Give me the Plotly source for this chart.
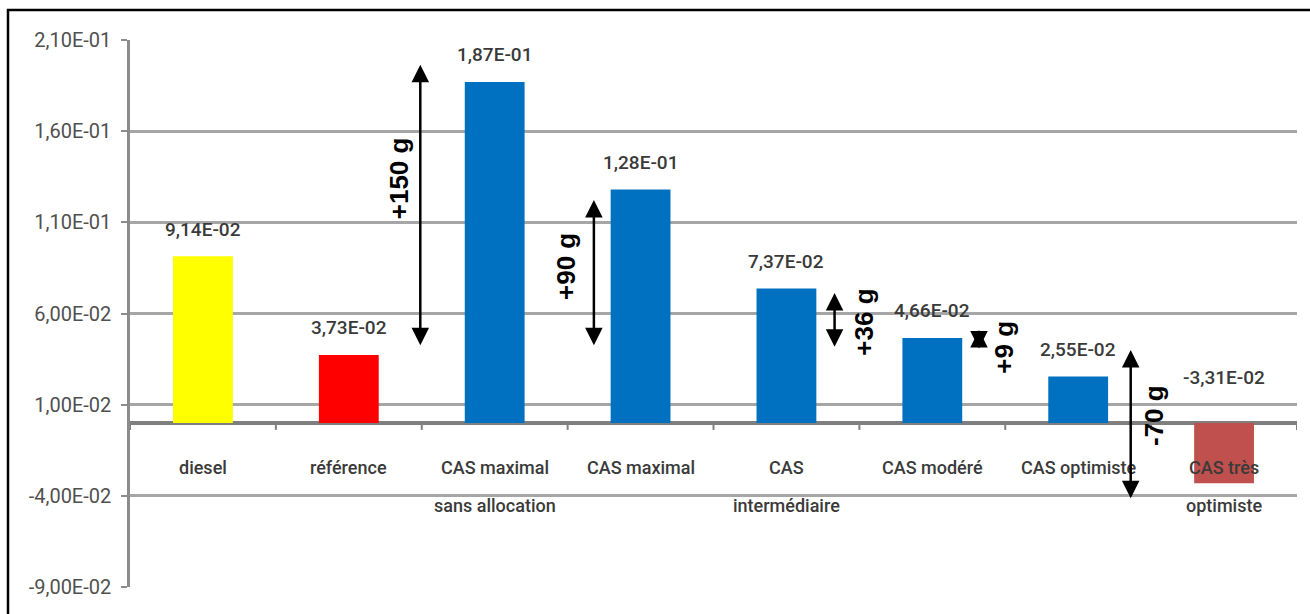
import plotly.graph_objects as go

# ---- data ----
categories = ["diesel", "référence", "CAS maximal<br>sans allocation", "CAS maximal",
              "CAS<br>intermédiaire", "CAS modéré", "CAS optimiste", "CAS très<br>optimiste"]
values = [9.14e-02, 3.73e-02, 1.87e-01, 1.28e-01, 7.37e-02, 4.66e-02, 2.55e-02, -3.31e-02]
value_labels = ["9,14E-02", "3,73E-02", "1,87E-01", "1,28E-01", "7,37E-02", "4,66E-02", "2,55E-02", "-3,31E-02"]
bar_colors = ["#FFFF00", "#FF0000", "#0070C0", "#0070C0", "#0070C0", "#0070C0", "#0070C0", "#C0504D"]

y_tickvals = [-0.09, -0.04, 0.01, 0.06, 0.11, 0.16, 0.21]
y_ticktext = ["-9,00E-02", "-4,00E-02", "1,00E-02", "6,00E-02", "1,10E-01", "1,60E-01", "2,10E-01"]

# difference arrows: x position (category units), from value, to value, label, label x, label y
arrow_x = [1.49, 2.68, 4.33, 5.32, 6.36]
arrow_from = [0.0417, 0.0417, 0.0410, 0.0400, -0.0422]
arrow_to = [0.1964, 0.1223, 0.0713, 0.0510, 0.0400]
arrow_text = ["+150 g", "+90 g", "+36 g", "+9 g", "-70 g"]
arrow_text_x = [1.34, 2.49, 4.53, 5.49, 6.52]
arrow_text_y = [0.1344, 0.0856, 0.0554, 0.0417, 0.0038]

W, H = 1310, 614
ML, MR, MT, MB = 130, 13, 40, 27
label_font = "Roboto, Noto Sans, sans-serif"
text_color = "#3A3A3A"

fig = go.Figure()
fig.add_trace(go.Bar(
    x=list(range(len(categories))), y=values,
    marker=dict(color=bar_colors, line=dict(width=0)),
    width=0.41, hoverinfo="skip", showlegend=False,
))

annotations = []
# value labels
for i, (v, t) in enumerate(zip(values, value_labels)):
    annotations.append(dict(
        x=i, y=max(v, 0), xref="x", yref="y", text=t, showarrow=False,
        yanchor="middle", yshift=27 if v >= 0 else 45,
        font=dict(family=label_font, size=19, color=text_color, weight=500),
    ))
# category labels (placed under the zero line)
for i, c in enumerate(categories):
    for k, line in enumerate(c.split("<br>")):
        annotations.append(dict(
            x=i, y=0, xref="x", yref="y", text=line, showarrow=False,
            yanchor="middle", yshift=-45 - 38 * k,
            font=dict(family=label_font, size=18, color=text_color, weight=500),
        ))
# arrows
for xa, y0, y1 in zip(arrow_x, arrow_from, arrow_to):
    annotations.append(dict(
        x=xa, y=y1, ax=xa, ay=y0, xref="x", yref="y", axref="x", ayref="y",
        text="", showarrow=True, arrowside="end+start",
        arrowhead=2, startarrowhead=2, arrowsize=1.4, startarrowsize=1.4,
        arrowwidth=2.5, arrowcolor="#000000",
    ))
for t, tx, ty in zip(arrow_text, arrow_text_x, arrow_text_y):
    annotations.append(dict(
        x=tx, y=ty, xref="x", yref="y", text="<b>%s</b>" % t, showarrow=False,
        textangle=-90, font=dict(family="Liberation Sans, Arial, sans-serif", size=26, color="#000000"),
    ))

shapes = []
# small category tick marks under the zero line
for i in range(len(categories) + 1):
    shapes.append(dict(
        type="line", xref="x", yref="y", x0=i - 0.5, x1=i - 0.5,
        ysizemode="pixel", yanchor=0, y0=0, y1=-7,
        line=dict(color="#808080", width=2),
    ))
# outer frame
pw = W - ML - MR
ph = H - MT - MB
shapes.append(dict(
    type="rect", xref="paper", yref="paper",
    x0=(8 - ML) / pw, x1=(W + 20 - ML) / pw,
    y0=-(H + 20 - MT - ph) / ph, y1=1 + (MT - 10) / ph,
    line=dict(color="#000000", width=2.5), fillcolor="rgba(0,0,0,0)", layer="above",
))

fig.update_layout(
    width=W, height=H,
    margin=dict(l=ML, r=MR, t=MT, b=MB, pad=0),
    paper_bgcolor="white", plot_bgcolor="white",
    bargap=0.59,
    annotations=annotations, shapes=shapes,
    xaxis=dict(range=[-0.5, len(categories) - 0.5], showticklabels=False, showgrid=False,
               zeroline=False, showline=False, ticks=""),
    yaxis=dict(range=[-0.09, 0.21], tickvals=y_tickvals, ticktext=y_ticktext,
               showgrid=True, gridcolor="#A6A6A6", gridwidth=2.5,
               zeroline=True, zerolinecolor="#7F7F7F", zerolinewidth=3.5,
               showline=True, linecolor="#8C8C8C", linewidth=2.5,
               ticks="outside", ticklen=6, tickcolor="#8C8C8C", tickwidth=2,
               ticklabelstandoff=6,
               tickfont=dict(family=label_font, size=20, color="#505050")),
    font=dict(family=label_font),
)

fig.write_html("out.html", config={"displayModeBar": False},
               post_script="document.body.style.margin='0';document.body.style.overflow='hidden';")
